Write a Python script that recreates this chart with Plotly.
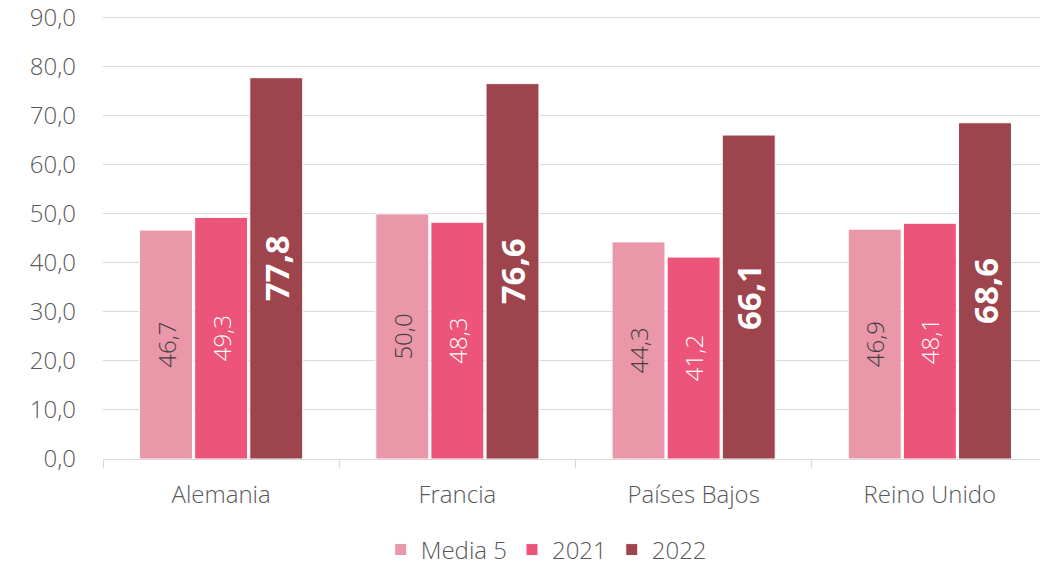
import plotly.graph_objects as go

categories = ["Alemania", "Francia", "Países Bajos", "Reino Unido"]
media5 = [46.7, 50.0, 44.3, 46.9]
v2021 = [49.3, 48.3, 41.2, 48.1]
v2022 = [77.8, 76.6, 66.1, 68.6]
y_ticks = [0, 10, 20, 30, 40, 50, 60, 70, 80, 90]

FONT = "Open Sans"
GRAY = "#595959"

def fmt(v):
    return f"{v:.1f}".replace(".", ",")

fig = go.Figure()
fig.add_trace(go.Bar(
    name="Media 5", x=categories, y=media5,
    marker=dict(color="#E997A9", line=dict(color="white", width=1)),
    text=[fmt(v) for v in media5], textposition="inside", insidetextanchor="middle",
    textangle=-90, textfont=dict(family=FONT, size=24, color="#404040", weight=300),
))
fig.add_trace(go.Bar(
    name="2021", x=categories, y=v2021,
    marker=dict(color="#EC5479", line=dict(color="white", width=1)),
    text=[fmt(v) for v in v2021], textposition="inside", insidetextanchor="middle",
    textangle=-90, textfont=dict(family=FONT, size=24, color="white", weight=300),
))
fig.add_trace(go.Bar(
    name="2022", x=categories, y=v2022,
    marker=dict(color="#9E444D", line=dict(color="white", width=1)),
    text=[fmt(v) for v in v2022], textposition="inside", insidetextanchor="middle",
    textangle=-90, textfont=dict(family=FONT, size=33, color="white", weight=700),
))

fig.update_layout(
    width=1040, height=559,
    margin=dict(l=95, r=0, t=5, b=108, autoexpand=False),
    paper_bgcolor="white", plot_bgcolor="white",
    barmode="group", bargap=0.30, bargroupgap=0.04,
    font=dict(family=FONT, color=GRAY),
    legend=dict(
        orientation="h", x=0.469, xanchor="center",
        y=-0.204, yanchor="middle",
        font=dict(family=FONT, size=24, color=GRAY, weight=300),
        traceorder="normal",
    ),
    showlegend=True,
)
fig.update_yaxes(
    range=[0, 91], tickvals=y_ticks, ticktext=[fmt(v) for v in y_ticks],
    showgrid=True, gridcolor="#D9D9D9", gridwidth=1.3,
    zeroline=False, showline=False, automargin=False,
    tickfont=dict(family=FONT, size=24, color=GRAY, weight=300),
    ticklabelstandoff=26, ticklabeloverflow="allow",
)
fig.update_xaxes(
    showline=True, linecolor="#D9D9D9", linewidth=1.3, automargin=False,
    ticks="outside", tickson="boundaries", ticklen=8, tickcolor="#D9D9D9", tickwidth=1.3,
    tickfont=dict(family=FONT, size=24, color=GRAY, weight=300), tickangle=0,
    ticklabelstandoff=14,
)

fig.write_html("out.html")
